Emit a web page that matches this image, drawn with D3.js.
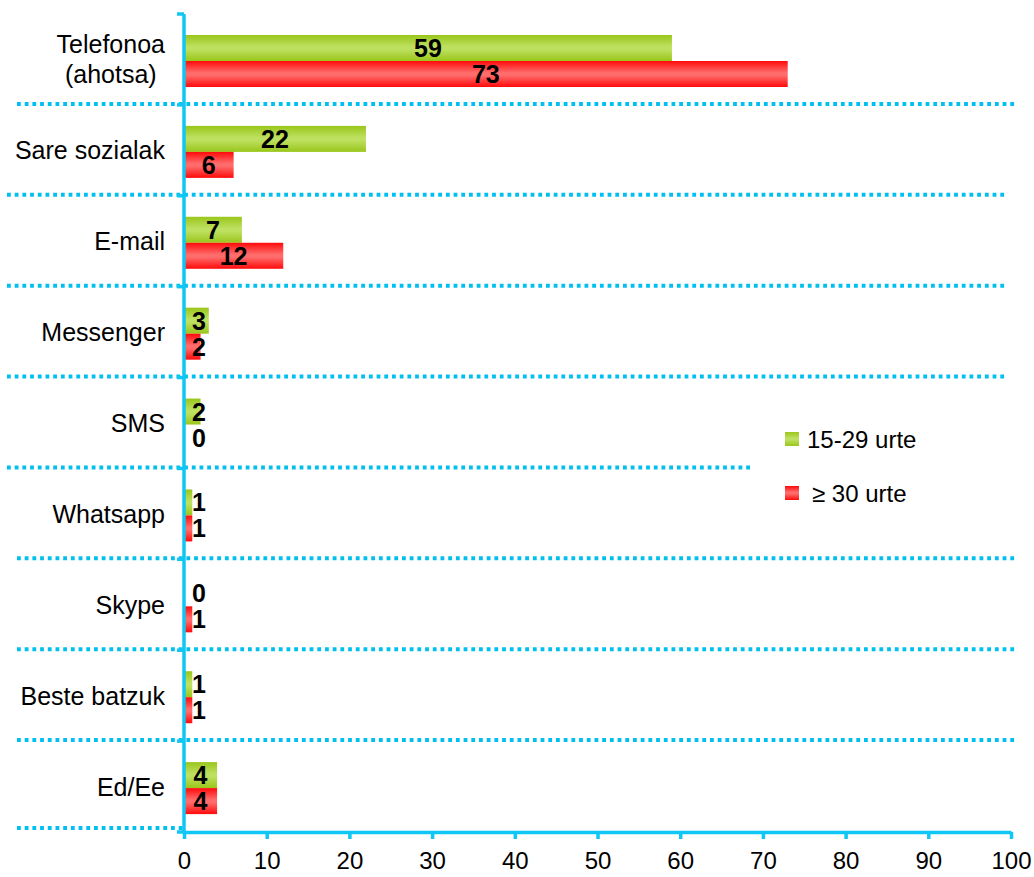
<!DOCTYPE html>
<html>
<head>
<meta charset="utf-8">
<script src="https://cdn.jsdelivr.net/npm/d3@7"></script>
<style>
  html, body { margin: 0; padding: 0; background: #fff; }
  svg { display: block; font-family: "Liberation Sans", Arial, sans-serif; }
</style>
</head>
<body>
<svg id="chart" width="1034" height="877"></svg>
<script>
// Communication channels by age group (%)
const categories = ["Telefonoa\n(ahotsa)", "Sare sozialak", "E-mail", "Messenger", "SMS", "Whatsapp", "Skype", "Beste batzuk", "Ed/Ee"];
const seriesNames = ["15-29 urte", "\u2265 30 urte"];
const valuesYoung = [59, 22, 7, 3, 2, 1, 0, 1, 4];
const valuesOlder = [73, 6, 12, 2, 0, 1, 1, 1, 4];
const xTicks = [0, 10, 20, 30, 40, 50, 60, 70, 80, 90, 100];

const svg = d3.select("#chart");
const W = 1034, H = 877;
const plotLeft = 184, plotRight = 1011, plotTop = 14, plotBottom = 832;
const axisColor = "#10C6F4";
const dotColor = "#00C0F0";

svg.append("rect").attr("width", W).attr("height", H).attr("fill", "#fff");

// gradients for the cylinder-like bar shading
const defs = svg.append("defs");
const grads = [
  { id: "gYoung", edge: "#99C61A", mid: "#BEE060" },
  { id: "gOlder", edge: "#FF0A0A", mid: "#FF6C6C" }
];
grads.forEach(g => {
  const lg = defs.append("linearGradient").attr("id", g.id)
    .attr("x1", 0).attr("y1", 0).attr("x2", 0).attr("y2", 1);
  lg.append("stop").attr("offset", "0%").attr("stop-color", g.edge);
  lg.append("stop").attr("offset", "45%").attr("stop-color", g.mid);
  lg.append("stop").attr("offset", "55%").attr("stop-color", g.mid);
  lg.append("stop").attr("offset", "100%").attr("stop-color", g.edge);
});

const x = d3.scaleLinear().domain([0, 100]).range([plotLeft, plotRight]);
const y = d3.scaleBand().domain(categories).range([plotTop, plotBottom]).padding(0);
const sub = d3.scaleBand().domain(seriesNames).range([21, 73]).padding(0);

const rows = categories.map((c, i) => ({ cat: c, vals: [valuesYoung[i], valuesOlder[i]] }));

// dotted separators between categories
const sepStart = [17, 7, 7, 7, 7, 17, 17, 17, 17];
const sepEnd = [1018, 1008, 1008, 1008, 750, 1018, 1018, 1018, plotLeft];
const sepY = categories.slice(1).map(c => y(c) - 1).concat([plotBottom - 4]);
svg.append("g").selectAll("line").data(sepY).join("line")
  .attr("x1", (d, i) => sepStart[i]).attr("x2", (d, i) => sepEnd[i])
  .attr("y1", d => d).attr("y2", d => d)
  .attr("stroke", dotColor).attr("stroke-width", 4)
  .attr("stroke-dasharray", "3.8 3.9");

// bars
const gRows = svg.append("g").selectAll("g").data(rows).join("g")
  .attr("transform", d => `translate(0,${y(d.cat)})`);
gRows.selectAll("rect").data(d => d.vals.map((v, k) => ({ v, k }))).join("rect")
  .attr("x", x(0))
  .attr("y", d => sub(seriesNames[d.k]))
  .attr("width", d => x(d.v) - x(0))
  .attr("height", sub.bandwidth())
  .attr("fill", d => d.k === 0 ? "url(#gYoung)" : "url(#gOlder)");

// value labels, centred on the bar but kept clear of the axis
gRows.selectAll("text.val").data(d => d.vals.map((v, k) => ({ v, k }))).join("text")
  .attr("class", "val")
  .attr("y", d => sub(seriesNames[d.k]) + sub.bandwidth() / 2)
  .attr("dy", "0.36em")
  .attr("font-size", 25).attr("font-weight", "bold").attr("fill", "#000")
  .text(d => d.v)
  .each(function (d) {
    const w = this.getComputedTextLength();
    const cx = (x(0) + x(d.v)) / 2;
    d3.select(this).attr("x", Math.max(cx - w / 2, x(0) + 8));
  });

// category labels
svg.append("g").selectAll("text").data(categories).join("text")
  .attr("font-size", 25).attr("fill", "#000")
  .each(function (c) {
    const lines = c.split("\n");
    const t = d3.select(this);
    const cy = y(c) + y.bandwidth() / 2;
    if (lines.length === 1) {
      t.attr("text-anchor", "end").attr("x", 165).attr("y", cy).attr("dy", "0.36em").text(c);
    } else {
      t.attr("text-anchor", "middle");
      lines.forEach((ln, j) => {
        t.append("tspan").attr("x", 0).attr("y", cy + (j - (lines.length - 1) / 2) * 30)
          .attr("dy", "0.36em").text(ln);
      });
      const w = d3.max(t.selectAll("tspan").nodes(), n => n.getComputedTextLength());
      t.selectAll("tspan").attr("x", 165 - w / 2);
    }
  });

// y axis with small ticks at category boundaries
const yAxis = svg.append("g").attr("stroke", axisColor).attr("stroke-width", 3.5).attr("fill", "none");
yAxis.append("line").attr("x1", plotLeft).attr("x2", plotLeft).attr("y1", plotTop).attr("y2", plotBottom + 1);
const bounds = categories.map(c => y(c)).concat([plotBottom]);
yAxis.selectAll("line.tk").data(bounds).join("line").attr("class", "tk")
  .attr("x1", plotLeft - 7).attr("x2", plotLeft).attr("y1", d => d).attr("y2", d => d);

// x axis
const xAxis = svg.append("g").attr("transform", `translate(0,${plotBottom})`)
  .call(d3.axisBottom(x).tickValues(xTicks).tickSize(7).tickPadding(13).tickSizeOuter(0));
xAxis.select(".domain").attr("stroke", axisColor).attr("stroke-width", 3.5);
xAxis.selectAll(".tick line").attr("stroke", axisColor).attr("stroke-width", 3.5);
xAxis.selectAll(".tick text").attr("font-size", 24).attr("fill", "#000")
  .attr("font-family", "Liberation Sans, Arial, sans-serif");

// legend
const legend = svg.append("g");
const legY = [439, 493];
const legendFills = ["url(#gYoung)", "url(#gOlder)"];
seriesNames.forEach((s, i) => {
  legend.append("rect").attr("x", 785).attr("y", legY[i] - 7).attr("width", 14).attr("height", 14)
    .attr("fill", legendFills[i]);
  legend.append("text").attr("x", i === 0 ? 807 : 812).attr("y", legY[i]).attr("dy", "0.36em")
    .attr("font-size", 24).attr("fill", "#000").text(s);
});
</script>
</body>
</html>
